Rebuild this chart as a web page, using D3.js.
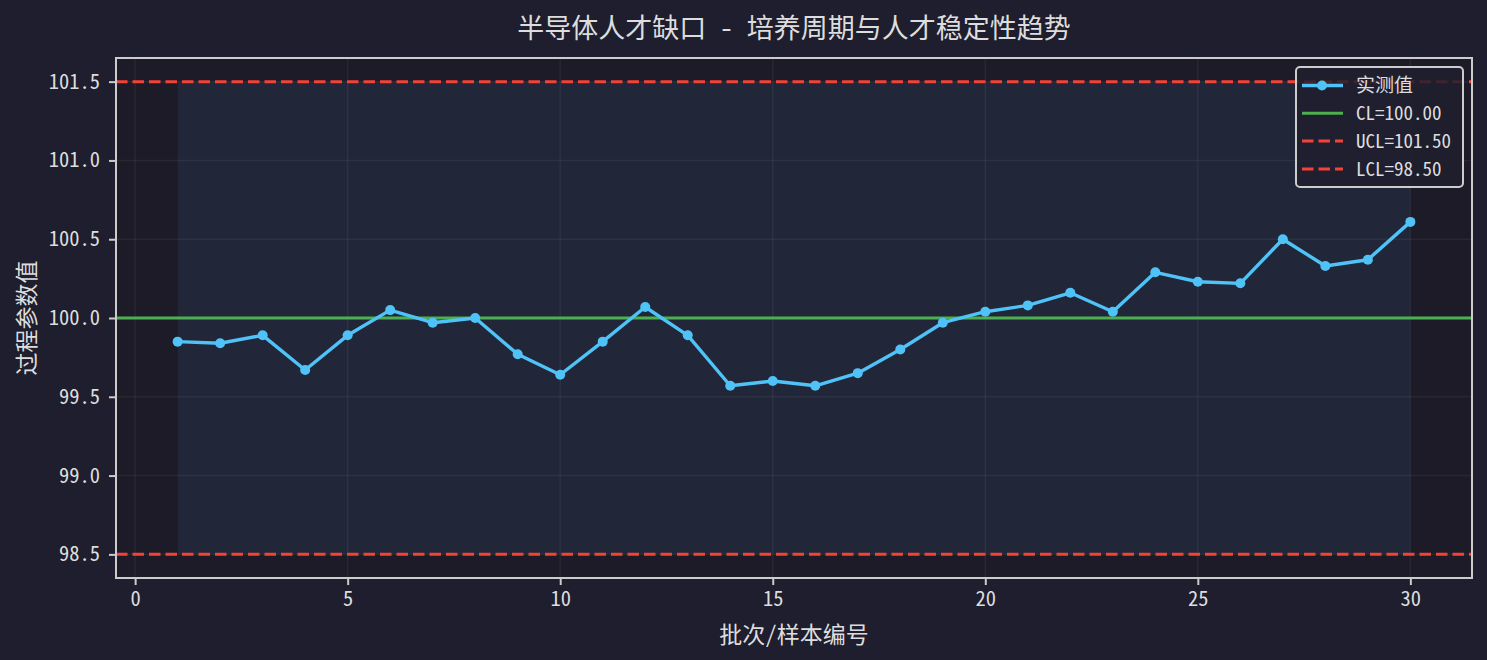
<!DOCTYPE html>
<html>
<head>
<meta charset="utf-8">
<script src="https://cdn.jsdelivr.net/npm/d3@7"></script>
<style>
  html, body { margin: 0; padding: 0; background: #1e1e2e; }
  svg text { font-family: "Noto Sans Mono CJK SC", "Noto Sans CJK SC", "DejaVu Sans Mono", monospace; fill: #dddddd; }
</style>
</head>
<body>
<div id="chart"></div>
<script>
// Batch numbers and measured values
const batches = d3.range(1, 31);
const measured = [99.85, 99.84, 99.89, 99.67, 99.89, 100.05, 99.97, 100.00, 99.77, 99.64,
                  99.85, 100.07, 99.89, 99.57, 99.60, 99.57, 99.65, 99.80, 99.97, 100.04,
                  100.08, 100.16, 100.04, 100.29, 100.23, 100.22, 100.50, 100.33, 100.37, 100.61];
const CL = 100.0, UCL = 101.5, LCL = 98.5;
const xTicks = [0, 5, 10, 15, 20, 25, 30];
const yTicks = [98.5, 99.0, 99.5, 100.0, 100.5, 101.0, 101.5];
const legendLabels = ["实测值", "CL=100.00", "UCL=101.50", "LCL=98.50"];

function createControlChart() {
    // Set the dimensions and margins of the graph
    const W = 1487, H = 660;
    const margin = {top: 58, right: 15, bottom: 82, left: 116},
        width = W - margin.left - margin.right,
        height = H - margin.top - margin.bottom;

    const svg = d3.select("#chart")
        .append("svg")
        .attr("width", W)
        .attr("height", H);

    svg.append("rect").attr("width", W).attr("height", H).attr("fill", "#1e1e2e");

    const g = svg.append("g")
        .attr("transform", `translate(${margin.left},${margin.top})`);

    // Scales
    const x = d3.scaleLinear().domain([-0.45, 31.45]).range([0, width]);
    const y = d3.scaleLinear().domain([LCL - 0.15, UCL + 0.15]).range([height, 0]);

    // Axes background
    g.append("rect")
        .attr("width", width).attr("height", height)
        .attr("fill", "#1e1b28");

    // Control band
    g.append("rect")
        .attr("x", x(batches[0]))
        .attr("y", y(UCL))
        .attr("width", x(batches[batches.length - 1]) - x(batches[0]))
        .attr("height", y(LCL) - y(UCL))
        .attr("fill", "#212639");

    // Grid
    g.selectAll(".gx").data(xTicks).enter().append("line")
        .attr("x1", d => x(d)).attr("x2", d => x(d))
        .attr("y1", 0).attr("y2", height)
        .attr("stroke", "#ffffff").attr("stroke-opacity", 0.05).attr("stroke-width", 1.5);
    g.selectAll(".gy").data(yTicks).enter().append("line")
        .attr("x1", 0).attr("x2", width)
        .attr("y1", d => y(d)).attr("y2", d => y(d))
        .attr("stroke", "#ffffff").attr("stroke-opacity", 0.05).attr("stroke-width", 1.5);

    // Control limits
    const dash = "11.5,5";
    [UCL, LCL].forEach(v => {
        g.append("line")
            .attr("x1", 0).attr("x2", width)
            .attr("y1", y(v)).attr("y2", y(v))
            .attr("stroke", "#f44336")
            .attr("stroke-width", 3)
            .attr("stroke-dasharray", dash);
    });

    g.append("line")
        .attr("x1", 0).attr("x2", width)
        .attr("y1", y(CL)).attr("y2", y(CL))
        .attr("stroke", "#4caf50").attr("stroke-width", 3);

    // Data line
    const data = batches.map((b, i) => ({b: b, v: measured[i]}));
    g.append("path")
        .datum(data)
        .attr("fill", "none")
        .attr("stroke", "#4fc3f7")
        .attr("stroke-width", 3.4)
        .attr("stroke-linejoin", "round")
        .attr("d", d3.line().x(d => x(d.b)).y(d => y(d.v)));

    g.selectAll(".pt").data(data).enter().append("circle")
        .attr("cx", d => x(d.b))
        .attr("cy", d => y(d.v))
        .attr("r", 5)
        .attr("fill", "#4fc3f7");

    // Axes
    const xAxis = g.append("g")
        .attr("transform", `translate(0,${height})`)
        .call(d3.axisBottom(x).tickValues(xTicks).tickSize(7).tickPadding(6).tickFormat(d3.format("d")));
    const yAxis = g.append("g")
        .call(d3.axisLeft(y).tickValues(yTicks).tickSize(7).tickPadding(9).tickFormat(d3.format(".1f")));
    [xAxis, yAxis].forEach(a => {
        a.selectAll("path").remove();
        a.selectAll("line").attr("stroke", "#cccccc").attr("stroke-width", 2);
        a.selectAll("text").attr("fill", "#dddddd").style("font-size", "20.5px");
    });

    // Spines
    g.append("rect")
        .attr("width", width).attr("height", height)
        .attr("fill", "none")
        .attr("stroke", "#cccccc")
        .attr("stroke-width", 2);

    // Title and axis labels
    svg.append("text")
        .attr("x", margin.left + width / 2)
        .attr("y", 29)
        .attr("dy", "0.35em")
        .attr("text-anchor", "middle")
        .style("font-size", "27px")
        .text("半导体人才缺口 - 培养周期与人才稳定性趋势");

    svg.append("text")
        .attr("x", margin.left + width / 2)
        .attr("y", 635)
        .attr("dy", "0.35em")
        .attr("text-anchor", "middle")
        .style("font-size", "23px")
        .text("批次/样本编号");

    svg.append("text")
        .attr("transform", `translate(27,${margin.top + y(100)}) rotate(-90)`)
        .attr("dy", "0.35em")
        .attr("text-anchor", "middle")
        .style("font-size", "23px")
        .text("过程参数值");

    // Legend
    const lg = svg.append("g").attr("transform", "translate(1296,67)");
    lg.append("rect")
        .attr("width", 167).attr("height", 120)
        .attr("rx", 4)
        .attr("fill", "#1e1e2e").attr("fill-opacity", 0.85)
        .attr("stroke", "#cccccc").attr("stroke-width", 2);
    const items = [
        {label: legendLabels[0], color: "#4fc3f7", dash: null, w: 3.4, marker: true},
        {label: legendLabels[1], color: "#4caf50", dash: null, w: 3, marker: false},
        {label: legendLabels[2], color: "#f44336", dash: dash, w: 3, marker: false},
        {label: legendLabels[3], color: "#f44336", dash: dash, w: 3, marker: false}
    ];
    const row = lg.selectAll(".item").data(items).enter().append("g")
        .attr("transform", (d, i) => `translate(0,${18.5 + i * 27.8})`);
    row.append("line")
        .attr("x1", 6).attr("x2", 47)
        .attr("stroke", d => d.color)
        .attr("stroke-width", d => d.w)
        .attr("stroke-dasharray", d => d.dash);
    row.filter(d => d.marker).append("circle")
        .attr("cx", 26).attr("r", 5).attr("fill", d => d.color);
    row.append("text")
        .attr("x", 60).attr("dy", "0.35em")
        .style("font-size", "19px")
        .text(d => d.label);
}

createControlChart();
</script>
</body>
</html>
